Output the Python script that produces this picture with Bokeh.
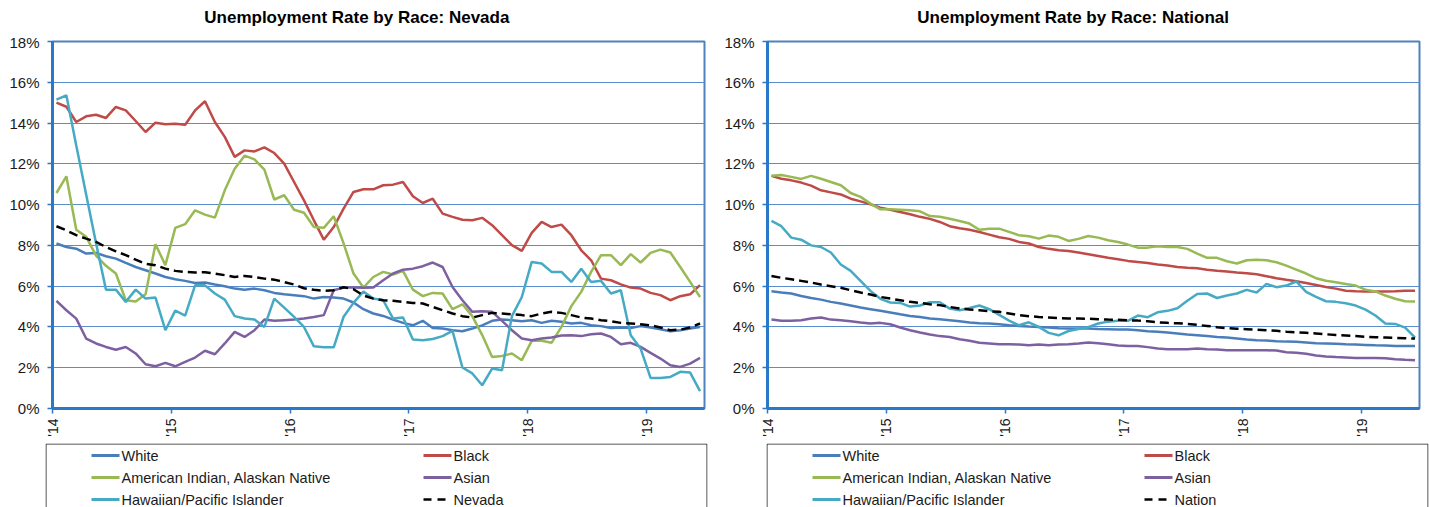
import math
from bokeh.plotting import figure
from bokeh.layouts import row, column
from bokeh.models import Range1d, FixedTicker, PrintfTickFormatter, ColumnDataSource
from bokeh.embed import file_html
from bokeh.resources import INLINE
from bokeh.core.properties import value

# ---------------- data (monthly, Jan 2014 - Jun 2019) ----------------
N_MONTHS = 66
YEAR_TICKS = [0, 12, 24, 36, 48, 60]
YEAR_LABELS = ["'14", "'15", "'16", "'17", "'18", "'19"]
Y_TICKS = [0, 2, 4, 6, 8, 10, 12, 14, 16, 18]

SERIES_NAMES = ["White", "Black", "American Indian, Alaskan Native", "Asian",
                "Hawaiian/Pacific Islander"]

nv_white = [8.09, 7.92, 7.84, 7.6, 7.63, 7.47, 7.35, 7.14, 6.94, 6.78,
            6.62, 6.45, 6.34, 6.26, 6.16, 6.18, 6.08, 6.0, 5.88, 5.83,
            5.88, 5.8, 5.67, 5.6, 5.56, 5.51, 5.39, 5.47, 5.44, 5.39,
            5.2, 4.87, 4.66, 4.54, 4.36, 4.2, 4.08, 4.3, 3.95, 3.92,
            3.84, 3.79, 3.92, 4.08, 4.3, 4.36, 4.33, 4.28, 4.33, 4.2,
            4.3, 4.25, 4.17, 4.2, 4.08, 4.04, 3.95, 3.97, 3.95, 4.04,
            3.97, 3.89, 3.79, 3.84, 3.92, 4.0]
nv_black = [15.0, 14.8, 14.05, 14.33, 14.41, 14.25, 14.79, 14.62, 14.1, 13.56,
            14.02, 13.94, 13.97, 13.92, 14.62, 15.07, 14.05, 13.32, 12.34, 12.66,
            12.61, 12.81, 12.53, 12.01, 11.11, 10.21, 9.23, 8.28, 8.9, 9.8,
            10.62, 10.75, 10.75, 10.95, 10.98, 11.11, 10.41, 10.08, 10.29, 9.56,
            9.4, 9.26, 9.23, 9.35, 8.99, 8.5, 8.01, 7.73, 8.61, 9.15,
            8.9, 9.02, 8.5, 7.76, 7.27, 6.37, 6.29, 6.09, 5.93, 5.88,
            5.67, 5.56, 5.31, 5.51, 5.6, 6.05]
nv_amind = [10.57, 11.39, 8.77, 8.42, 7.5, 7.0, 6.62, 5.31, 5.25, 5.6,
            8.06, 7.03, 8.86, 9.04, 9.72, 9.51, 9.36, 10.7, 11.76, 12.4,
            12.22, 11.72, 10.25, 10.46, 9.75, 9.6, 8.9, 8.86, 9.43, 8.1,
            6.62, 5.93, 6.45, 6.7, 6.57, 6.75, 5.83, 5.51, 5.67, 5.64,
            4.87, 5.11, 4.53, 3.6, 2.53, 2.58, 2.7, 2.37, 3.32, 3.32,
            3.22, 4.0, 5.02, 5.72, 6.7, 7.52, 7.52, 7.03, 7.57, 7.16,
            7.63, 7.79, 7.65, 6.94, 6.21, 5.47]
nv_asian = [5.28, 4.82, 4.41, 3.43, 3.19, 3.02, 2.88, 3.02, 2.7, 2.17,
            2.07, 2.24, 2.07, 2.29, 2.5, 2.83, 2.66, 3.19, 3.76, 3.51,
            3.84, 4.36, 4.3, 4.33, 4.36, 4.41, 4.49, 4.58, 5.8, 5.93,
            5.93, 5.92, 5.93, 6.29, 6.62, 6.81, 6.86, 6.98, 7.16, 6.94,
            5.96, 5.31, 4.74, 4.77, 4.74, 4.3, 3.84, 3.43, 3.35, 3.43,
            3.48, 3.58, 3.59, 3.55, 3.64, 3.68, 3.51, 3.15, 3.22, 3.02,
            2.73, 2.45, 2.12, 2.04, 2.2, 2.48]
nv_hawaii = [15.15, 15.36, 12.9, 10.5, 8.1, 5.83, 5.83, 5.23, 5.83, 5.39,
             5.44, 3.84, 4.8, 4.55, 6.04, 6.04, 5.64, 5.34, 4.53, 4.41,
             4.36, 4.0, 5.39, 4.95, 4.49, 4.0, 3.05, 3.0, 3.0, 4.5,
             5.18, 5.74, 5.39, 5.31, 4.41, 4.46, 3.38, 3.35, 3.41, 3.55,
             3.81, 2.01, 1.72, 1.14, 1.96, 1.88, 4.53, 5.47, 7.19, 7.11,
             6.7, 6.7, 6.21, 6.86, 6.21, 6.26, 5.64, 5.8, 3.59, 2.94,
             1.5, 1.5, 1.55, 1.8, 1.76, 0.85]
nv_total = [8.94, 8.74, 8.5, 8.33, 8.17, 7.92, 7.71, 7.52, 7.3, 7.1,
            7.03, 6.86, 6.75, 6.7, 6.67, 6.68, 6.62, 6.54, 6.45, 6.5,
            6.45, 6.37, 6.32, 6.2, 6.08, 5.9, 5.82, 5.77, 5.8, 5.95,
            5.85, 5.54, 5.39, 5.31, 5.28, 5.23, 5.18, 5.15, 4.98, 4.82,
            4.66, 4.53, 4.46, 4.58, 4.69, 4.66, 4.62, 4.58, 4.53, 4.66,
            4.74, 4.69, 4.58, 4.46, 4.41, 4.33, 4.28, 4.2, 4.17, 4.13,
            4.08, 3.97, 3.84, 3.87, 3.97, 4.17]

us_white = [5.75, 5.69, 5.64, 5.52, 5.42, 5.34, 5.23, 5.15, 5.05, 4.95,
            4.87, 4.79, 4.71, 4.62, 4.54, 4.49, 4.41, 4.38, 4.33, 4.28,
            4.22, 4.18, 4.17, 4.13, 4.08, 4.05, 4.02, 4.0, 3.97, 3.94,
            3.92, 3.92, 3.92, 3.9, 3.89, 3.87, 3.87, 3.84, 3.79, 3.76,
            3.73, 3.68, 3.63, 3.59, 3.55, 3.51, 3.48, 3.43, 3.38, 3.35,
            3.33, 3.3, 3.28, 3.27, 3.24, 3.2, 3.19, 3.17, 3.15, 3.14,
            3.12, 3.1, 3.09, 3.07, 3.06, 3.06]
us_black = [11.41, 11.27, 11.19, 11.08, 10.93, 10.7, 10.6, 10.5, 10.29, 10.16,
            10.02, 9.85, 9.75, 9.64, 9.53, 9.4, 9.3, 9.15, 8.94, 8.84,
            8.77, 8.66, 8.53, 8.4, 8.32, 8.17, 8.09, 7.92, 7.83, 7.76,
            7.72, 7.65, 7.57, 7.48, 7.39, 7.32, 7.24, 7.19, 7.14, 7.06,
            7.01, 6.94, 6.9, 6.88, 6.81, 6.76, 6.72, 6.67, 6.63, 6.58,
            6.49, 6.39, 6.31, 6.24, 6.16, 6.06, 5.96, 5.88, 5.78, 5.75,
            5.74, 5.74, 5.74, 5.75, 5.77, 5.77]
us_amind = [11.41, 11.45, 11.36, 11.26, 11.41, 11.27, 11.11, 10.95, 10.57, 10.38,
            10.05, 9.77, 9.77, 9.75, 9.72, 9.67, 9.44, 9.4, 9.31, 9.2,
            9.07, 8.77, 8.82, 8.82, 8.66, 8.5, 8.45, 8.33, 8.48, 8.42,
            8.22, 8.32, 8.46, 8.38, 8.25, 8.17, 8.04, 7.89, 7.89, 7.96,
            7.92, 7.92, 7.83, 7.6, 7.39, 7.39, 7.22, 7.11, 7.27, 7.3,
            7.27, 7.17, 7.01, 6.81, 6.62, 6.39, 6.27, 6.19, 6.11, 6.03,
            5.83, 5.74, 5.54, 5.38, 5.26, 5.25]
us_asian = [4.36, 4.3, 4.3, 4.33, 4.41, 4.46, 4.36, 4.33, 4.28, 4.22,
            4.17, 4.2, 4.13, 3.97, 3.84, 3.73, 3.63, 3.55, 3.51, 3.4,
            3.32, 3.22, 3.19, 3.15, 3.15, 3.14, 3.1, 3.14, 3.1, 3.14,
            3.15, 3.19, 3.24, 3.2, 3.15, 3.09, 3.06, 3.06, 3.01, 2.94,
            2.91, 2.91, 2.91, 2.94, 2.91, 2.89, 2.86, 2.86, 2.86, 2.86,
            2.86, 2.84, 2.76, 2.73, 2.68, 2.6, 2.55, 2.52, 2.5, 2.48,
            2.48, 2.48, 2.47, 2.42, 2.39, 2.37]
us_hawaii = [9.2, 8.94, 8.38, 8.28, 8.0, 7.92, 7.65, 7.06, 6.75, 6.26,
             5.77, 5.38, 5.2, 5.18, 5.0, 5.05, 5.21, 5.21, 4.9, 4.82,
             4.93, 5.05, 4.87, 4.59, 4.31, 4.08, 4.23, 4.0, 3.71, 3.59,
             3.8, 3.9, 3.99, 4.17, 4.26, 4.3, 4.3, 4.56, 4.48, 4.72,
             4.79, 4.92, 5.28, 5.62, 5.64, 5.42, 5.54, 5.64, 5.82, 5.69,
             6.11, 5.95, 6.03, 6.23, 5.72, 5.47, 5.26, 5.23, 5.16, 5.05,
             4.85, 4.56, 4.17, 4.15, 3.97, 3.48]
us_total = [6.5, 6.41, 6.34, 6.26, 6.18, 6.08, 6.0, 5.92, 5.8, 5.69,
            5.59, 5.47, 5.39, 5.31, 5.23, 5.18, 5.11, 5.07, 4.98, 4.9,
            4.85, 4.82, 4.77, 4.74, 4.66, 4.58, 4.53, 4.49, 4.46, 4.43,
            4.41, 4.41, 4.4, 4.38, 4.36, 4.35, 4.33, 4.31, 4.28, 4.23,
            4.2, 4.18, 4.15, 4.1, 4.05, 3.99, 3.94, 3.91, 3.89, 3.87,
            3.84, 3.81, 3.77, 3.74, 3.71, 3.68, 3.64, 3.61, 3.58, 3.55,
            3.51, 3.5, 3.48, 3.46, 3.45, 3.43]

# ---------------- styling ----------------
COLORS = ["#4A7EBB", "#BE4B48", "#98B954", "#7D60A0", "#46AAC5"]
TOTAL_COLOR = "#000000"
FONT = "Liberation Sans"
TEXT_COLOR = "#1A1A1A"
X_SHIFT = 0.4  # points sit slightly right of the year tick
FRAME_W, FRAME_H = 652, 367
X_MAX = 65.85
TITLE_H = 33


def make_title(title, width, center_px):
    t = figure(title=None, frame_width=width, frame_height=TITLE_H, frame_align=False,
               min_border_left=0, min_border_right=0,
               min_border_top=0, min_border_bottom=0,
               x_range=Range1d(0, width), y_range=Range1d(0, TITLE_H),
               x_axis_type=None, y_axis_type=None,
               toolbar_location=None, output_backend="svg",
               outline_line_color=None, border_fill_color="white")
    t.grid.visible = False
    t.text(x=[center_px], y=[TITLE_H - 17], text=[title], text_align="center",
           text_baseline="alphabetic", text_font=value(FONT),
           text_font_size="17px", text_font_style="bold", text_color="#000000")
    return t


def make_chart(series, total, border_left, border_right):
    p = figure(title=None, frame_width=FRAME_W, frame_height=FRAME_H,
               min_border_left=border_left, min_border_right=border_right,
               min_border_top=8, min_border_bottom=35,
               x_range=Range1d(0, X_MAX), y_range=Range1d(0, 18),
               toolbar_location=None, output_backend="svg",
               background_fill_color="white", border_fill_color="white")

    p.outline_line_color = "#4F81BD"
    p.outline_line_width = 2
    p.xgrid.visible = False
    p.ygrid.grid_line_color = "#5B8CCB"
    p.ygrid.grid_line_width = 1
    p.ygrid.ticker = FixedTicker(ticks=Y_TICKS)

    p.yaxis.ticker = FixedTicker(ticks=Y_TICKS)
    p.yaxis.formatter = PrintfTickFormatter(format="%d%%")
    p.xaxis.ticker = FixedTicker(ticks=YEAR_TICKS)
    p.xaxis.major_label_overrides = {t: lab for t, lab in zip(YEAR_TICKS, YEAR_LABELS)}
    p.xaxis.major_label_orientation = math.pi / 2
    for ax in (p.xaxis, p.yaxis):
        ax.axis_line_color = "#2A78C8"
        ax.axis_line_width = 3
        ax.major_tick_line_color = "#2A78C8"
        ax.major_tick_line_width = 1.5
        ax.major_tick_out = 5
        ax.major_tick_in = 0
        ax.minor_tick_line_color = None
        ax.major_label_text_font = FONT
        ax.major_label_text_color = TEXT_COLOR
    p.yaxis.major_label_text_font_size = "15px"
    p.yaxis.major_label_standoff = 8
    p.xaxis.major_label_text_font_size = "14px"
    p.xaxis.major_label_standoff = 5

    xs = [i + X_SHIFT for i in range(N_MONTHS)]
    for vals, col in zip(series, COLORS):
        src = ColumnDataSource(dict(x=xs, y=vals))
        p.line("x", "y", source=src, line_color=col, line_width=2.5)
    src = ColumnDataSource(dict(x=xs, y=total))
    p.line("x", "y", source=src, line_color=TOTAL_COLOR, line_width=2.5,
           line_dash="9 5")
    return p


def make_legend(total_name, border_left, frame_w, border_right):
    H = 64
    lg = figure(title=None, frame_width=frame_w, frame_height=H, frame_align=False,
                min_border_left=border_left, min_border_right=border_right,
                min_border_top=0, min_border_bottom=0,
                x_range=Range1d(0, frame_w), y_range=Range1d(0, H),
                x_axis_type=None, y_axis_type=None,
                toolbar_location=None, output_backend="svg",
                outline_line_color=None, border_fill_color="white")
    lg.grid.visible = False
    # open-bottom box (continues beyond the visible page)
    lg.line(x=[0.5, 0.5, frame_w - 0.5, frame_w - 0.5], y=[0, H - 0.5, H - 0.5, 0],
            line_color="#222222", line_width=1)
    names = SERIES_NAMES + [total_name]
    colors = COLORS + [TOTAL_COLOR]
    rows_y = [H - 12, H - 34, H - 56]
    cols_x = [46, 378]
    for k, (nm, col) in enumerate(zip(names, colors)):
        cx = cols_x[k % 2]
        cy = rows_y[k // 2]
        if k == 5:
            lg.segment(x0=[cx], y0=[cy], x1=[cx + 28], y1=[cy], line_color=col,
                       line_width=2.5, line_dash="8 6")
        else:
            lg.segment(x0=[cx], y0=[cy], x1=[cx + 28], y1=[cy], line_color=col,
                       line_width=3)
        lg.text(x=[cx + 30], y=[cy], text=[nm], text_baseline="middle",
                text_align="left", text_font=value(FONT),
                text_font_size="14.5px", text_color=TEXT_COLOR)
    return lg


nv_series = [nv_white, nv_black, nv_amind, nv_asian, nv_hawaii]
us_series = [us_white, us_black, us_amind, us_asian, us_hawaii]

t1 = make_title("Unemployment  Rate by Race: Nevada", 715, 358.7)
p1 = make_chart(nv_series, nv_total, 52, 11)
l1 = make_legend("Nevada", 45, 662, 8)
t2 = make_title("Unemployment  Rate by Race: National", 714, 360.0)
p2 = make_chart(us_series, us_total, 52, 10)
l2 = make_legend("Nation", 51, 662, 1)

layout = row(column(t1, p1, l1), column(t2, p2, l2))

open("out.html", "w").write(file_html(layout, INLINE))
